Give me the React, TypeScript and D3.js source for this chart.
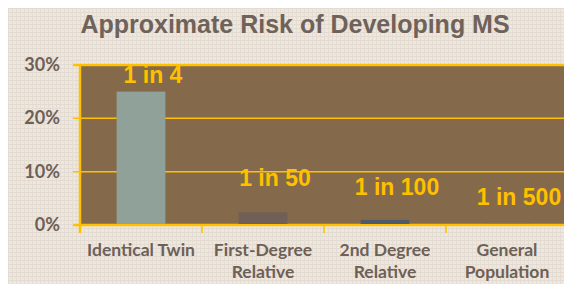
import React from "react";
import * as d3 from "d3";

const categories: string[][] = [
  ["Identical Twin"],
  ["First-Degree", "Relative"],
  ["2nd Degree", "Relative"],
  ["General", "Population"],
];
const riskValues: number[] = [25, 2.4, 0.95, 0.2];
const riskLabels: string[] = ["1 in 4", "1 in 50", "1 in 100", "1 in 500"];
const labelAnchorValues: number[] = [26.6, 7.3, 5.6, 3.75];
const yTicks: number[] = [0, 10, 20, 30];
const barColors: string[] = ["#8fa198", "#6f5f57", "#4d5a6b", "#4d5a6b"];

const W = 564;
const H = 284;
const plot = { left: 80, top: 65, right: 568, bottom: 225 };

export default function App() {
  const x = d3
    .scaleBand<number>()
    .domain(categories.map((_, i) => i))
    .range([plot.left, plot.right])
    .paddingInner(0.6)
    .paddingOuter(0.3);
  const band = d3
    .scaleBand<number>()
    .domain(categories.map((_, i) => i))
    .range([plot.left, plot.right]);
  const y = d3.scaleLinear().domain([0, 30]).range([plot.bottom, plot.top]);

  const gold = "#ffc000";
  const textCol = "#6d6058";

  return (
    <svg
      width={W}
      height={H}
      style={{ position: "absolute", left: 0, top: 0 }}
    >
      <defs>
        <pattern id="tex" width="4" height="4" patternUnits="userSpaceOnUse">
          <rect width="4" height="4" fill="#ede7de" />
          <rect width="4" height="1" fill="#e3dbd0" />
          <rect width="1" height="4" fill="#e5ddd3" />
        </pattern>
      </defs>
      <rect x={8} y={8} width={W - 8} height={H - 8} fill="url(#tex)" />
      <text
        x={295}
        y={33}
        textAnchor="middle"
        fontFamily="'Liberation Sans', Arial, sans-serif"
        fontWeight="bold"
        fontSize={25}
        fill="#6f625a"
      >
        Approximate Risk of Developing MS
      </text>
      <rect
        x={plot.left}
        y={plot.top}
        width={plot.right - plot.left}
        height={plot.bottom - plot.top}
        fill="#846a4a"
      />
      {yTicks.map((t) => (
        <g key={t}>
          <line
            x1={plot.left - 7}
            x2={plot.right}
            y1={y(t)}
            y2={y(t)}
            stroke={gold}
            strokeWidth={t === 0 || t === 30 ? 2.5 : 1.5}
          />
          <text
            x={60}
            y={y(t) + 6}
            textAnchor="end"
            fontFamily="Lato, sans-serif"
            fontWeight="bold"
            fontSize={18}
            fill={textCol}
          >
            {t}%
          </text>
        </g>
      ))}
      <line
        x1={plot.left}
        x2={plot.left}
        y1={plot.top - 1}
        y2={plot.bottom + 8}
        stroke={gold}
        strokeWidth={2.5}
      />
      {categories.map((_, i) =>
        i === 0 ? null : (
          <line
            key={"t" + i}
            x1={band(i)!}
            x2={band(i)!}
            y1={plot.bottom}
            y2={plot.bottom + 8}
            stroke={gold}
            strokeWidth={1.5}
          />
        )
      )}
      {riskValues.map((v, i) => (
        <rect
          key={"b" + i}
          x={x(i)!}
          y={y(v)}
          width={x.bandwidth()}
          height={plot.bottom - 1 - y(v)}
          fill={barColors[i]}
        />
      ))}
      {riskLabels.map((l, i) => (
        <text
          key={"l" + i}
          x={band(i)! + band.bandwidth() / 2 + 12}
          y={y(labelAnchorValues[i])}
          textAnchor="middle"
          fontFamily="'Liberation Sans', Arial, sans-serif"
          fontWeight="bold"
          fontSize={23}
          fill={gold}
        >
          {l}
        </text>
      ))}
      {categories.map((lines, i) => (
        <text
          key={"c" + i}
          x={band(i)! + band.bandwidth() / 2}
          y={256}
          textAnchor="middle"
          fontFamily="Lato, sans-serif"
          fontWeight="bold"
          fontSize={17.5}
          fill={textCol}
        >
          {lines.map((ln, j) => (
            <tspan key={j} x={band(i)! + band.bandwidth() / 2} dy={j === 0 ? 0 : 22}>
              {ln}
            </tspan>
          ))}
        </text>
      ))}
    </svg>
  );
}
